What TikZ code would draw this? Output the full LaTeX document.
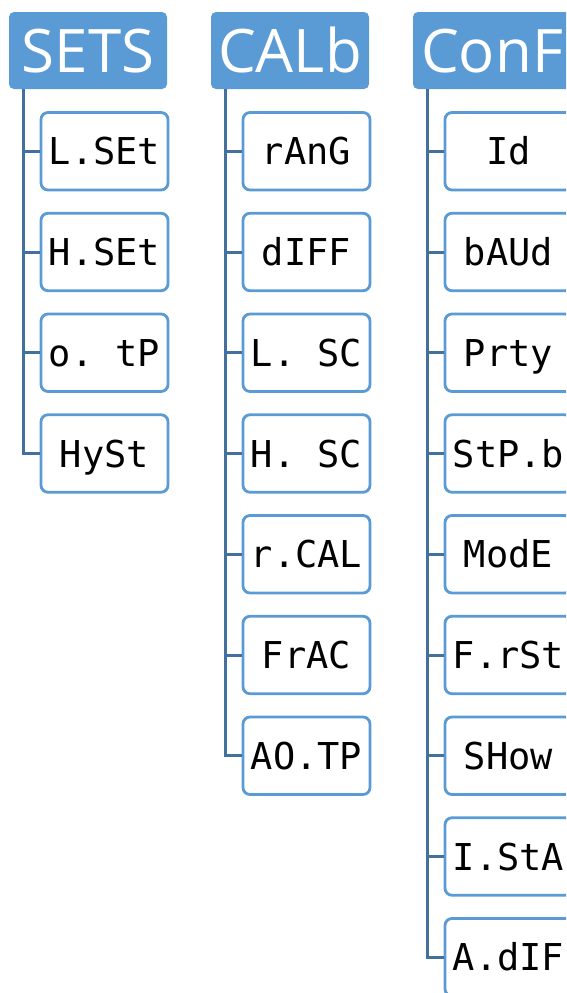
\documentclass[tikz,border=0pt]{standalone}
\usepackage{fontspec}
\setsansfont{Open Sans}
\setmonofont{DejaVu Sans Mono}
\definecolor{headblue}{HTML}{5B9BD5}
\definecolor{lineblue}{HTML}{41719C}

\begin{document}
\begin{tikzpicture}[x=1pt,y=-1pt,
	head/.style={fill=headblue, rounded corners=5pt, minimum width=158pt, minimum height=77pt, inner sep=0pt,
		text=white, text height=43pt, text depth=0pt, font=\sffamily\fontsize{60}{60}\selectfont},
	item/.style={draw=headblue, line width=2.8pt, fill=white, rounded corners=7pt, minimum width=127pt, minimum height=77.5pt, inner sep=0pt,
		text height=27pt, text depth=0pt, font=\ttfamily\fontsize{37}{37}\selectfont},
	link/.style={draw=lineblue, line width=3pt}]
	\useasboundingbox (0,0) rectangle (566,993);
	\clip (0,0) rectangle (566,993);
	\foreach \c/\title/\items in {0/SETS/{L.SEt,H.SEt,o. tP,HySt},
		1/CALb/{rAnG,dIFF,L. SC,H. SC,r.CAL,FrAC,AO.TP},
		2/ConF/{Id,bAUd,Prty,StP.b,ModE,F.rSt,SHow,I.StA,A.dIF}} {
		% menu header
		\node[head] (h\c) at (88+\c*202, 50.5) {\title};
		% menu entries
		\foreach \lab [count=\k] in \items {
			\node[item] (i\c-\k) at (104.5+\c*202, 50.5+\k*100.75) {\lab};
			\draw[link] ([xshift=15pt]h\c.south west) |- (i\c-\k.west);
		}
	}
\end{tikzpicture}
\end{document}
